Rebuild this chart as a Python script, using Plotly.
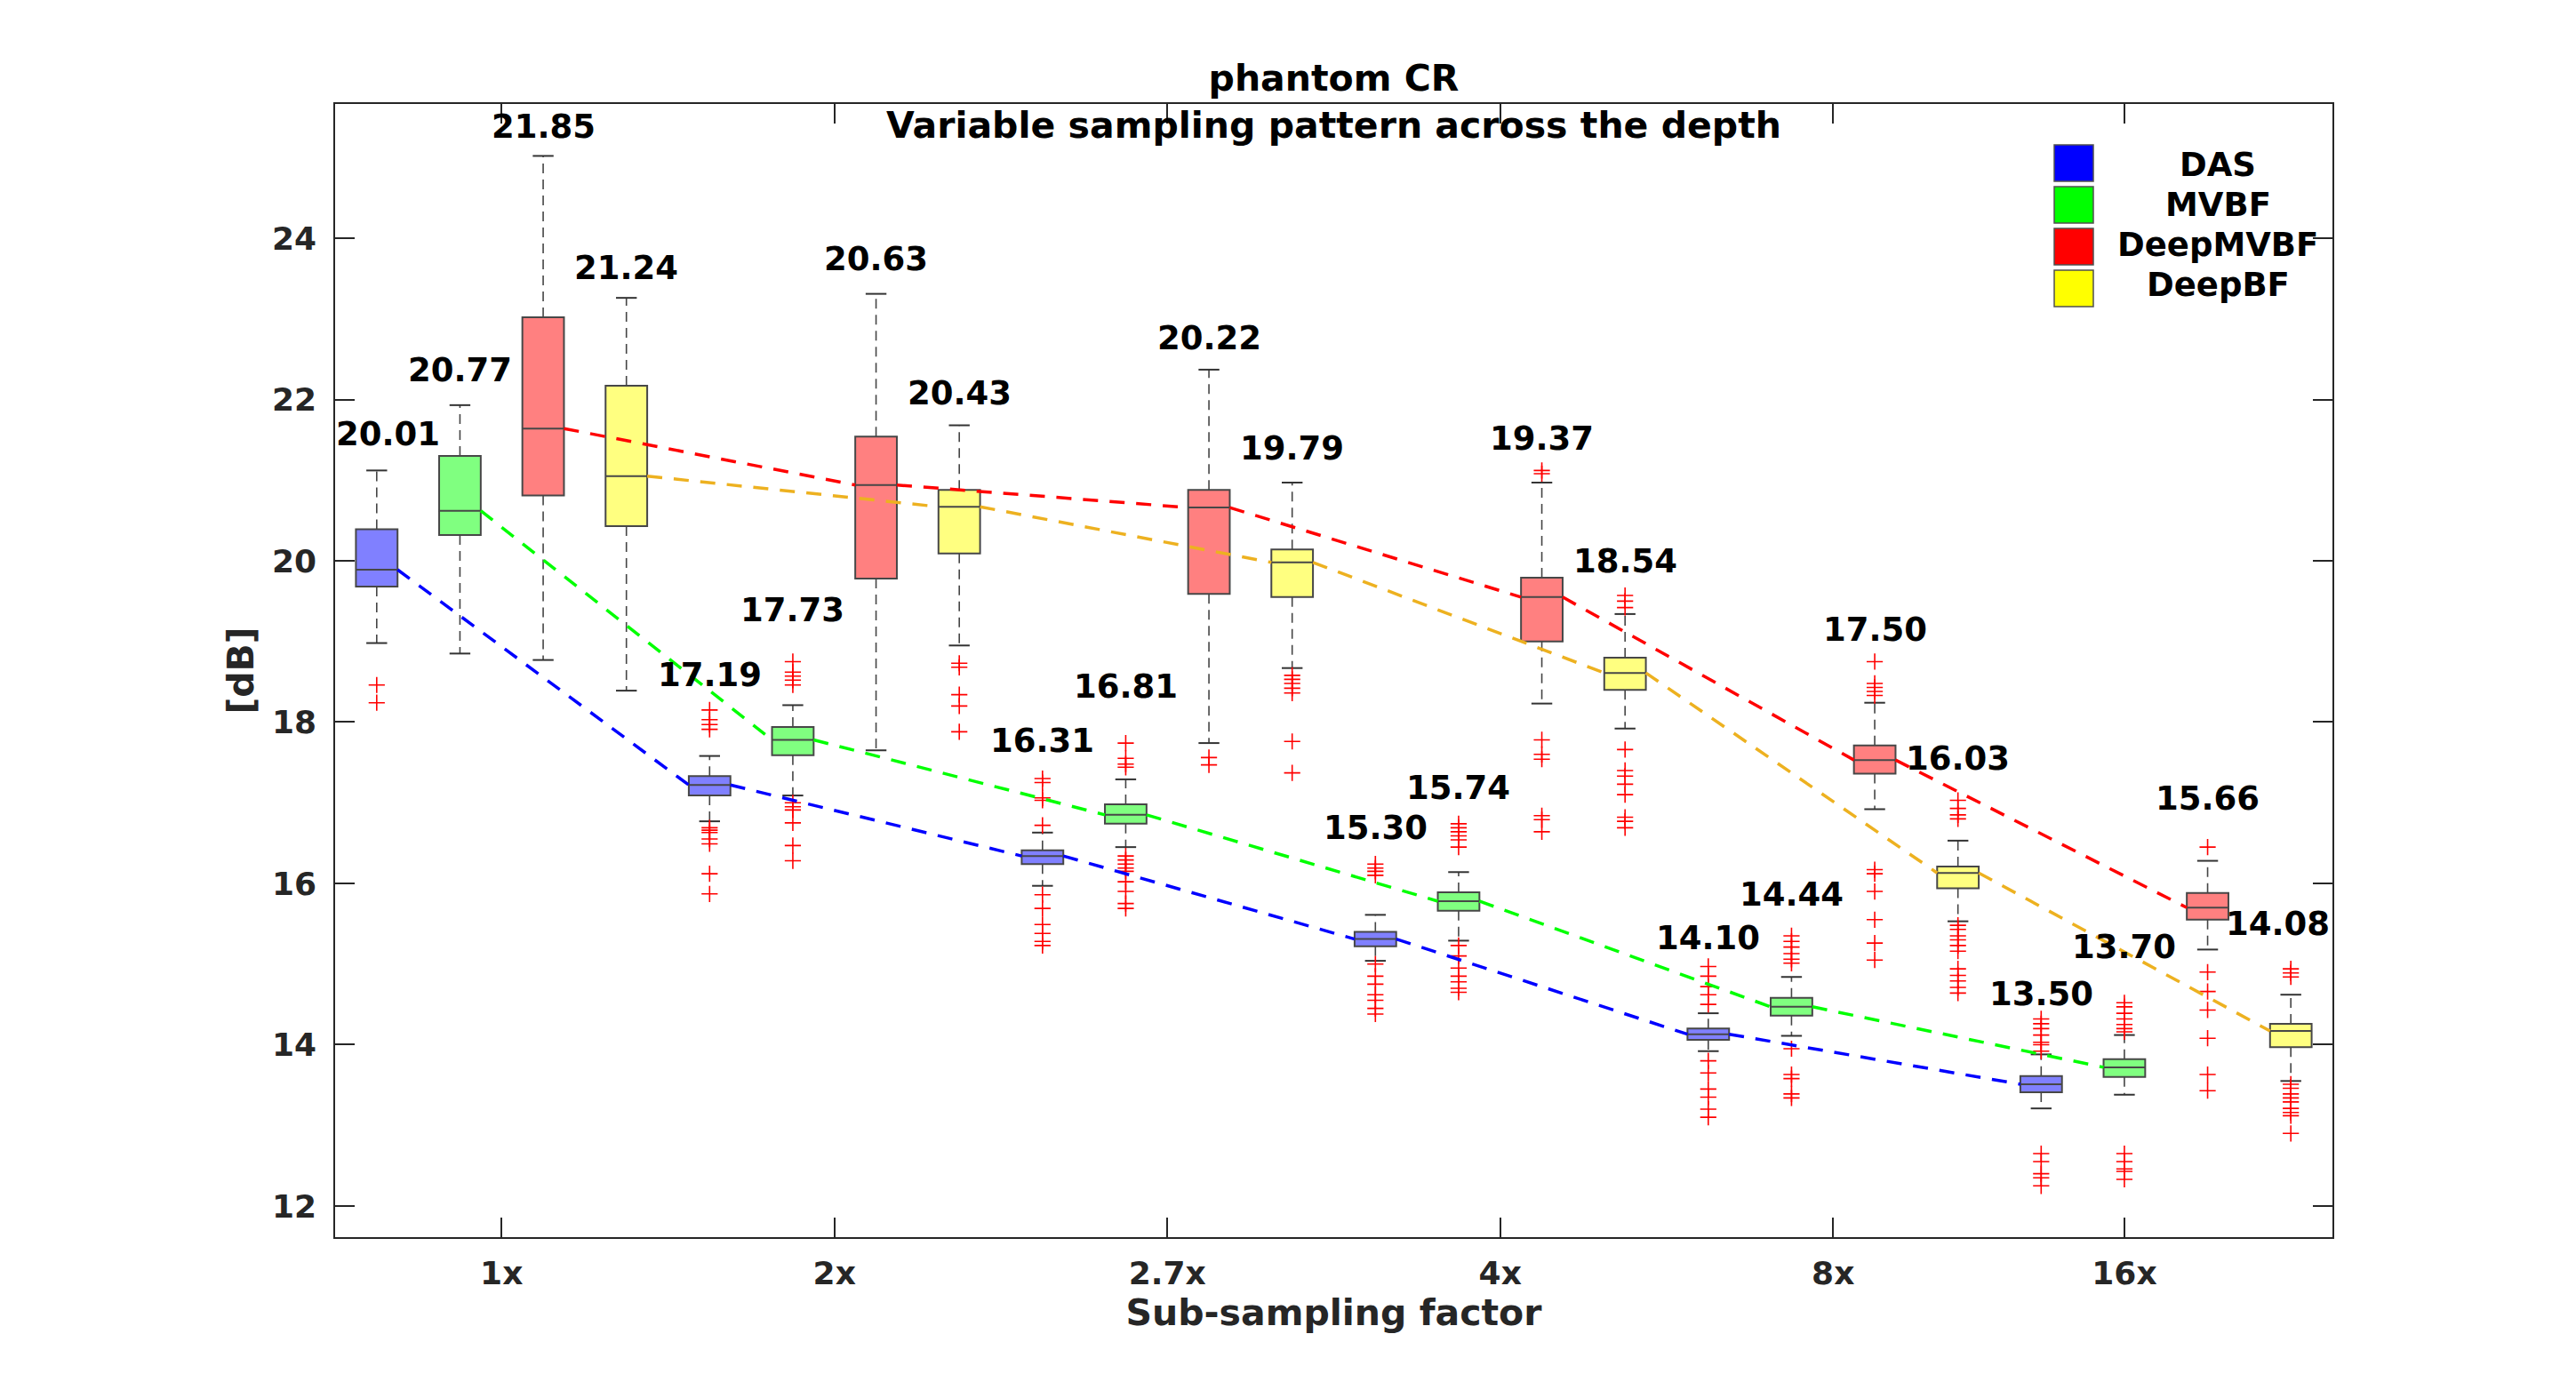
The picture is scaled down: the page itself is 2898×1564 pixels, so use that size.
import plotly.graph_objects as go

# ---------------- data ----------------
GROUPS = ["1x", "2x", "2.7x", "4x", "8x", "16x"]
XTICK_POS = [2.5, 6.5, 10.5, 14.5, 18.5, 22]
METHODS = ["DAS", "MVBF", "DeepMVBF", "DeepBF"]

DAS_LOWER = [18.98, 16.77, 15.97, 15.04, 13.92, 13.21]
DAS_Q1 = [19.68, 17.09, 16.24, 15.22, 14.06, 13.41]
DAS_MED = [19.89, 17.22, 16.34, 15.31, 14.13, 13.51]
DAS_Q3 = [20.39, 17.33, 16.41, 15.40, 14.20, 13.61]
DAS_UPPER = [21.12, 17.58, 16.63, 15.61, 14.39, 13.88]
DAS_OUT = [
    [18.46, 18.24],
    [18.15, 18.03, 17.97, 17.91, 16.69, 16.66, 16.63, 16.55, 16.49, 16.12, 15.87],
    [17.30, 17.25, 17.06, 17.03, 16.72, 15.86, 15.69, 15.49, 15.38, 15.28, 15.23],
    [16.24, 16.19, 16.15, 16.10, 15.00, 14.85, 14.75, 14.62, 14.55, 14.45, 14.38],
    [14.97, 14.85, 14.72, 14.62, 14.50, 13.80, 13.65, 13.45, 13.35, 13.20, 13.10],
    [14.32, 14.26, 14.20, 14.12, 14.03, 14.00, 13.92, 12.65, 12.55, 12.40, 12.35, 12.25],
]
DAS_LABELS = ["20.01", "17.19", "16.31", "15.30", "14.10", "13.50"]

MVBF_LOWER = [18.85, 17.09, 16.45, 15.29, 14.11, 13.38]
MVBF_Q1 = [20.32, 17.59, 16.74, 15.66, 14.36, 13.60]
MVBF_MED = [20.62, 17.78, 16.85, 15.78, 14.47, 13.72]
MVBF_Q3 = [21.30, 17.94, 16.98, 15.89, 14.58, 13.82]
MVBF_UPPER = [21.93, 18.21, 17.29, 16.14, 14.84, 14.12]
MVBF_OUT = [
    [],
    [18.75, 18.62, 18.57, 18.52, 18.46, 17.00, 16.95, 16.91, 16.75, 16.47, 16.28],
    [17.74, 17.55, 17.48, 17.44, 16.34, 16.29, 16.24, 16.19, 16.15, 16.02, 15.90, 15.75, 15.69],
    [16.74, 16.69, 16.64, 16.59, 16.54, 16.45, 15.23, 15.10, 14.95, 14.85, 14.78, 14.70, 14.65],
    [15.35, 15.28, 15.21, 15.13, 15.06, 15.01, 13.95, 13.63, 13.58, 13.39, 13.34],
    [14.52, 14.47, 14.39, 14.32, 14.25, 14.20, 14.16, 12.65, 12.55, 12.46, 12.43, 12.33],
]
MVBF_LABELS = ["20.77", "17.73", "16.81", "15.74", "14.44", "13.70"]

DMVBF_LOWER = [18.77, 17.65, 17.74, 18.23, 16.92, 15.18]
DMVBF_Q1 = [20.81, 19.78, 19.59, 19.00, 17.36, 15.55]
DMVBF_MED = [21.64, 20.94, 20.66, 19.55, 17.53, 15.70]
DMVBF_Q3 = [23.02, 21.54, 20.88, 19.79, 17.71, 15.88]
DMVBF_UPPER = [25.02, 23.31, 22.37, 20.97, 18.24, 16.28]
DMVBF_OUT = [
    [],
    [],
    [17.56, 17.47],
    [21.12, 21.08, 17.78, 17.60, 17.54, 16.84, 16.79, 16.64],
    [18.75, 18.48, 18.43, 18.38, 18.33, 16.17, 16.12, 15.90, 15.55, 15.26, 15.05],
    [16.45, 14.90, 14.66, 14.43, 14.08, 13.63, 13.43],
]
DMVBF_LABELS = ["21.85", "20.63", "20.22", "19.37", "17.50", "15.66"]

DBF_LOWER = [18.39, 18.95, 18.67, 17.92, 15.53, 13.55]
DBF_Q1 = [20.43, 20.09, 19.55, 18.40, 15.94, 13.97]
DBF_MED = [21.05, 20.67, 19.98, 18.61, 16.13, 14.17]
DBF_Q3 = [22.17, 20.88, 20.14, 18.80, 16.21, 14.26]
DBF_UPPER = [23.26, 21.68, 20.97, 19.34, 16.53, 14.62]
DBF_OUT = [
    [],
    [18.73, 18.68, 18.34, 18.20, 17.88],
    [18.58, 18.53, 18.48, 18.42, 18.36, 17.76, 17.37],
    [19.57, 19.50, 19.42, 17.66, 17.40, 17.33, 17.23, 17.10, 16.82, 16.77, 16.69],
    [17.03, 16.93, 16.85, 16.80, 15.48, 15.43, 15.35, 15.30, 15.23, 15.16, 14.94, 14.86, 14.79, 14.71, 14.64],
    [14.94, 14.89, 14.84, 13.51, 13.46, 13.39, 13.34, 13.29, 13.21, 13.16, 13.12, 12.90],
]
DBF_LABELS = ["21.24", "20.43", "19.79", "18.54", "16.03", "14.08"]

# ---------------- styling ----------------
W, H = 2898, 1564
ML, MR, MT, MB = 377, 274, 117, 172
BOX_FILL = ["#8080FF", "#80FF80", "#FF8080", "#FFFF80"]
SWATCH = ["#0000FF", "#00FF00", "#FF0000", "#FFFF00"]
LINE_COL = ["#0000FF", "#00FF00", "#FF0000", "#EDB120"]
BOX_W = 0.5
CAP_HW = 0.125
FONT = "DejaVu Sans"
AX_COL = "#262626"
LABEL_FS = 37
# gap between the top of each box's data and its value label's baseline (style only)
LABEL_GAP = [
    [0.30, 0.29, 0.32, 0.30, 0.20, 0.16],
    [0.29, 0.49, 0.55, 0.30, 0.36, 0.54],
    [0.21, 0.28, 0.24, 0.25, 0.25, 0.45],
    [0.22, 0.25, 0.27, 0.28, 0.37, 0.41],
]
DESCENT_UNITS = 0.11  # annotation box bottom lies this far below the text baseline

series = [
    (DAS_LOWER, DAS_Q1, DAS_MED, DAS_Q3, DAS_UPPER, DAS_OUT, DAS_LABELS),
    (MVBF_LOWER, MVBF_Q1, MVBF_MED, MVBF_Q3, MVBF_UPPER, MVBF_OUT, MVBF_LABELS),
    (DMVBF_LOWER, DMVBF_Q1, DMVBF_MED, DMVBF_Q3, DMVBF_UPPER, DMVBF_OUT, DMVBF_LABELS),
    (DBF_LOWER, DBF_Q1, DBF_MED, DBF_Q3, DBF_UPPER, DBF_OUT, DBF_LABELS),
]
nM = len(METHODS)
nB = nM * len(GROUPS)
XR = [0.5, nB + 0.5]
PW, PH = W - ML - MR, H - MT - MB

fig = go.Figure()
annotations = []

# whiskers and caps
for m, (lo, q1, med, q3, up, out, lab) in enumerate(series):
    pos = [g * nM + m + 1 for g in range(len(GROUPS))]
    wx, wy, cx, cy = [], [], [], []
    for i, p in enumerate(pos):
        wx += [p, p, None, p, p, None]
        wy += [q3[i], up[i], None, q1[i], lo[i], None]
        cx += [p - CAP_HW, p + CAP_HW, None, p - CAP_HW, p + CAP_HW, None]
        cy += [up[i], up[i], None, lo[i], lo[i], None]
    fig.add_trace(go.Scatter(x=wx, y=wy, mode="lines", showlegend=False,
                             line=dict(color="#454545", width=1.6, dash="11px,7px"),
                             hoverinfo="skip"))
    fig.add_trace(go.Scatter(x=cx, y=cy, mode="lines", showlegend=False,
                             line=dict(color="#333333", width=2), hoverinfo="skip"))

# boxes
for m, (lo, q1, med, q3, up, out, lab) in enumerate(series):
    pos = [g * nM + m + 1 for g in range(len(GROUPS))]
    fig.add_trace(go.Box(x=pos, q1=q1, median=med, q3=q3, lowerfence=q1, upperfence=q3,
                         width=BOX_W, fillcolor=BOX_FILL[m], whiskerwidth=0,
                         line=dict(color="#474747", width=2), boxpoints=False,
                         showlegend=False, name=METHODS[m]))

# outliers
for m, (lo, q1, med, q3, up, out, lab) in enumerate(series):
    ox, oy = [], []
    for g, vals in enumerate(out):
        p = g * nM + m + 1
        ox += [p] * len(vals)
        oy += vals
    fig.add_trace(go.Scatter(x=ox, y=oy, mode="markers", showlegend=False,
                             marker=dict(symbol="cross-thin", size=13,
                                         line=dict(color="#FF0000", width=1.6)),
                             hoverinfo="skip"))

# dashed lines connecting medians (box edge to box edge)
for m, (lo, q1, med, q3, up, out, lab) in enumerate(series):
    lx, ly = [], []
    for g in range(len(GROUPS) - 1):
        p0 = g * nM + m + 1
        p1 = (g + 1) * nM + m + 1
        lx += [p0 + BOX_W / 2, p1 - BOX_W / 2, None]
        ly += [med[g], med[g + 1], None]
    fig.add_trace(go.Scatter(x=lx, y=ly, mode="lines", showlegend=False,
                             line=dict(color=LINE_COL[m], width=3.5, dash="17px,13px"),
                             hoverinfo="skip"))

# value labels above each box (kept inside the axes horizontally)
half_label_px = 0.5 * 3.16 * LABEL_FS
for m, (lo, q1, med, q3, up, out, lab) in enumerate(series):
    for g in range(len(GROUPS)):
        p = g * nM + m + 1
        top = max([up[g]] + out[g])
        cx_px = ML + (p - XR[0]) / (XR[1] - XR[0]) * PW
        shift = 0
        if cx_px - half_label_px < ML:
            shift = ML - (cx_px - half_label_px) + 1
        elif cx_px + half_label_px > ML + PW:
            shift = (ML + PW) - (cx_px + half_label_px) - 3
        annotations.append(dict(x=p, y=top + LABEL_GAP[m][g] - DESCENT_UNITS, xref="x", yref="y",
                                text=lab[g], showarrow=False, xanchor="center", yanchor="bottom",
                                xshift=shift,
                                font=dict(family=FONT, size=LABEL_FS, color="black", weight="bold")))

# legend (drawn manually, MATLAB style)
def px2paper(xp, yp):
    return (xp - ML) / PW, (H - MB - yp) / PH

shapes = []
for m, name in enumerate(METHODS):
    y0p = 163 + m * 47
    x0, y0 = px2paper(2311, y0p + 41)
    x1, y1 = px2paper(2355, y0p)
    shapes.append(dict(type="rect", xref="paper", yref="paper", x0=x0, y0=y0, x1=x1, y1=y1,
                       fillcolor=SWATCH[m], line=dict(color="#505050", width=1.5)))
    tx, ty = px2paper(2495, 185 + m * 45)
    annotations.append(dict(x=tx, y=ty, xref="paper", yref="paper", text=name,
                            showarrow=False, xanchor="center", yanchor="middle",
                            font=dict(family=FONT, size=37, color="black", weight="bold")))

fig.update_layout(
    width=W, height=H,
    margin=dict(l=ML, r=MR, t=MT, b=MB, pad=0),
    paper_bgcolor="white", plot_bgcolor="white",
    boxmode="overlay",
    title=dict(text="phantom CR<br>Variable sampling pattern across the depth",
               x=0.5, xref="paper", xanchor="center",
               y=1, yref="paper", yanchor="bottom", pad=dict(b=15),
               font=dict(family=FONT, size=41, color="black", weight="bold")),
    annotations=annotations,
    shapes=shapes,
)
fig.update_xaxes(range=XR, tickmode="array",
                 tickvals=XTICK_POS, ticktext=GROUPS,
                 ticks="inside", ticklen=22, tickwidth=1.5, tickcolor=AX_COL,
                 showline=True, linecolor=AX_COL, linewidth=1.5, mirror="ticks",
                 showgrid=False, zeroline=False, ticklabelstandoff=8,
                 tickfont=dict(family=FONT, size=36, color=AX_COL, weight="bold"),
                 title=dict(text="Sub-sampling factor", standoff=6,
                            font=dict(family=FONT, size=41, color=AX_COL, weight="bold")))
fig.update_yaxes(range=[11.614, 25.664], tickmode="array",
                 tickvals=[12, 14, 16, 18, 20, 22, 24],
                 ticks="inside", ticklen=22, tickwidth=1.5, tickcolor=AX_COL,
                 showline=True, linecolor=AX_COL, linewidth=1.5, mirror="ticks",
                 showgrid=False, zeroline=False, ticklabelstandoff=12,
                 tickfont=dict(family=FONT, size=36, color=AX_COL, weight="bold"),
                 title=dict(text="[dB]", standoff=8,
                            font=dict(family=FONT, size=41, color=AX_COL, weight="bold")))

fig.write_html("out.html")
